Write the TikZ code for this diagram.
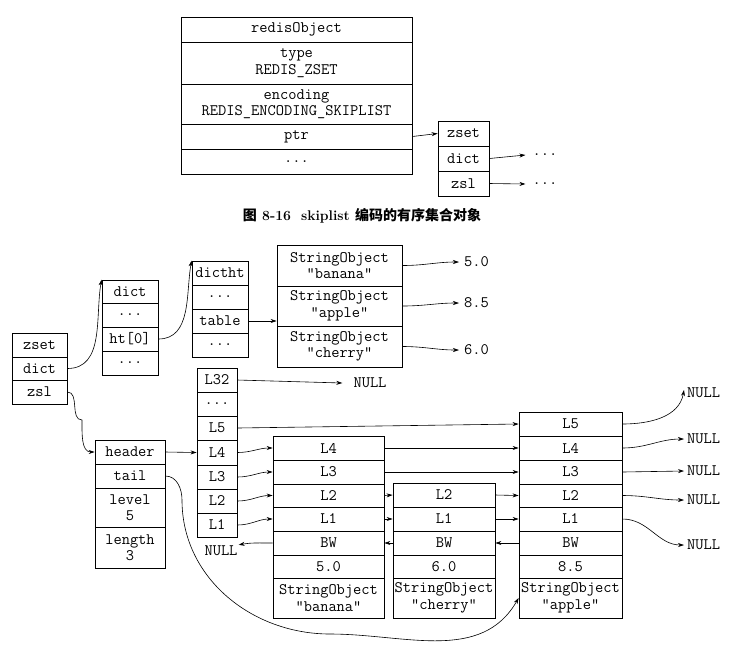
\documentclass[tikz,border=0pt]{standalone}
\usepackage{fontspec}
\newfontfamily\cjk{Noto Sans CJK SC}
\usetikzlibrary{arrows.meta}
\begin{document}
\begin{tikzpicture}[x=1pt,y=-1pt,
  cell/.style={draw,line width=0.8pt,inner sep=0pt,align=center,font=\ttfamily\fontsize{16}{16.5}\selectfont},
  lbl/.style={inner sep=1pt,font=\ttfamily\fontsize{16}{16.5}\selectfont},
  ar/.style={-{Stealth[length=6pt,width=4pt]},line width=0.6pt}]
\useasboundingbox (0,0) rectangle (751,649);
\newcommand\cel[6]{\pgfmathsetmacro\cw{#3-#2}\pgfmathsetmacro\ch{#5-#4}%
  \node[cell,minimum width=\cw pt,minimum height=\ch pt] (#1) at ({(#2+#3)/2},{(#4+#5)/2}) {#6};}
% top redisObject
\cel{ro}{181}{412}{17}{42}{redisObject}
\cel{rtype}{181}{412}{42}{84}{type\\REDIS\_ZSET}
\cel{renc}{181}{412}{84}{124}{encoding\\REDIS\_ENCODING\_SKIPLIST}
\cel{rptr}{181}{412}{124}{149}{ptr}
\cel{rdots}{181}{412}{149}{174}{...}
\cel{tz}{438}{489}{121}{146}{zset}
\cel{td}{438}{489}{146}{171}{dict}
\cel{tzsl}{438}{489}{171}{196}{zsl}
\node[lbl] (tdd) at (545,155) {...};
\node[lbl] (tzd) at (545,184) {...};
\draw[ar] (rptr.east) -- (tz.west);
\draw[ar] (td.east) -- ([xshift=-6pt]tdd.west);
\draw[ar] (tzsl.east) -- ([xshift=-6pt]tzd.west);
\node[font=\bfseries\fontsize{14}{16}\selectfont] (cap) at (362,216) {{\cjk 图} 8-16\hspace{10pt}skiplist {\cjk 编码的有序集合对象}};
% bottom zset
\cel{z}{12}{67}{333}{357}{zset}
\cel{zd}{12}{67}{357}{380}{dict}
\cel{zz}{12}{67}{380}{404}{zsl}
\cel{d}{102}{158}{280}{303}{dict}
\cel{d2}{102}{158}{303}{327}{...}
\cel{dht}{102}{158}{327}{351}{ht[0]}
\cel{d4}{102}{158}{351}{375}{...}
\cel{h}{192}{248}{261}{285}{dictht}
\cel{h2}{192}{248}{285}{309}{...}
\cel{htab}{192}{248}{309}{333}{table}
\cel{h4}{192}{248}{333}{357}{...}
\cel{sb}{277}{402}{245}{286}{StringObject\\"banana"}
\cel{sa}{277}{402}{286}{326}{StringObject\\"apple"}
\cel{sc}{277}{402}{326}{367}{StringObject\\"cherry"}
\node[lbl,anchor=west] (v1) at (463,262) {5.0};
\node[lbl,anchor=west] (v2) at (463,303) {8.5};
\node[lbl,anchor=west] (v3) at (463,350) {6.0};
\draw[ar] (sb.east) to[out=0,in=180] ([xshift=-4pt]v1.west);
\draw[ar] (sa.east) to[out=0,in=180] ([xshift=-4pt]v2.west);
\draw[ar] (sc.east) to[out=0,in=180] ([xshift=-4pt]v3.west);
\draw[ar] (zd.east) to[out=0,in=-100] (d.west|-d.north);
\draw[ar] (dht.east) to[out=0,in=-100] (h.west|-h.north);
\draw[ar] (htab.east) -- (htab.east-|sa.west);
% header levels
\cel{l32}{197}{237}{368}{392}{L32}
\cel{ldd}{197}{237}{392}{416}{...}
\cel{l5}{197}{237}{416}{440}{L5}
\cel{l4}{197}{237}{440}{465}{L4}
\cel{l3}{197}{237}{465}{489}{L3}
\cel{l2}{197}{237}{489}{513}{L2}
\cel{l1}{197}{237}{513}{537}{L1}
\node[lbl] (n32) at (370,383) {NULL};
\draw[ar] (l32.east) -- ([xshift=-10pt]n32.west);
% zsl struct
\cel{hd}{95}{165}{440}{464}{header}
\cel{tl}{95}{165}{464}{488}{tail}
\cel{lv}{95}{165}{488}{527}{level\\5}
\cel{ln}{95}{165}{527}{568}{length\\3}
\draw[ar] (zz.east) to[out=0,in=180] (82,420) to[out=-90,in=180] (hd.west);
\draw[ar] (hd.east) -- (l4.west);
% nodes
\cel{b4}{273}{384}{436}{460}{L4}
\cel{b3}{273}{384}{460}{484}{L3}
\cel{b2}{273}{384}{484}{507}{L2}
\cel{b1}{273}{384}{507}{531}{L1}
\cel{bw}{273}{384}{531}{555}{BW}
\cel{bs}{273}{384}{555}{578}{5.0}
\cel{bo}{273}{384}{578}{618}{StringObject\\"banana"}
\cel{c2}{393}{495}{483}{507}{L2}
\cel{c1}{393}{495}{507}{531}{L1}
\cel{cw}{393}{495}{531}{555}{BW}
\cel{cs}{393}{495}{555}{578}{6.0}
\cel{co}{393}{495}{578}{618}{StringObject\\"cherry"}
\cel{a5}{519}{622}{412}{436}{L5}
\cel{a4}{519}{622}{436}{460}{L4}
\cel{a3}{519}{622}{460}{484}{L3}
\cel{a2}{519}{622}{484}{507}{L2}
\cel{a1}{519}{622}{507}{531}{L1}
\cel{aw}{519}{622}{531}{555}{BW}
\cel{as}{519}{622}{555}{578}{8.5}
\cel{ao}{519}{622}{578}{618}{StringObject\\"apple"}
\draw[ar] (l5.east) -- (a5.west);
\draw[ar] (l4.east) to[out=0,in=180] (b4.west);
\draw[ar] (l3.east) to[out=0,in=180] (b3.west);
\draw[ar] (l2.east) to[out=0,in=180] (b2.west);
\draw[ar] (l1.east) to[out=0,in=180] (b1.west);
\draw[ar] (b4.east) -- (a4.west);
\draw[ar] (b3.east) -- (a3.west);
\draw[ar] (b2.east) -- (c2.west);
\draw[ar] (b1.east) -- (c1.west);
\draw[ar] (c2.east) -- (a2.west);
\draw[ar] (c1.east) -- (a1.west);
\draw[ar] (aw.west) -- (cw.east);
\draw[ar] (cw.west) -- (bw.east);
\node[lbl] (nl) at (221,551) {NULL};
\draw[ar] (bw.west) to[out=180,in=10] (nl.north east);
\node[lbl,anchor=west] (r5) at (686,393) {NULL};
\node[lbl,anchor=west] (r4) at (686,439) {NULL};
\node[lbl,anchor=west] (r3) at (686,471) {NULL};
\node[lbl,anchor=west] (r2) at (686,500) {NULL};
\node[lbl,anchor=west] (r1) at (686,545) {NULL};
\draw[ar] (a5.east) to[out=0,in=-100] ([xshift=-2pt,yshift=3pt]r5.west);
\draw[ar] (a4.east) to[out=0,in=180] ([xshift=-2pt]r4.west);
\draw[ar] (a3.east) -- ([xshift=-2pt]r3.west);
\draw[ar] (a2.east) to[out=0,in=180] ([xshift=-2pt]r2.west);
\draw[ar] (a1.east) to[out=0,in=180] ([xshift=-2pt]r1.west);
\draw[ar] (tl.east) to[out=0,in=90] (182,500) to[out=-90,in=180] (330,634) to[out=0,in=-120] (ao.west);
\end{tikzpicture}
\end{document}
